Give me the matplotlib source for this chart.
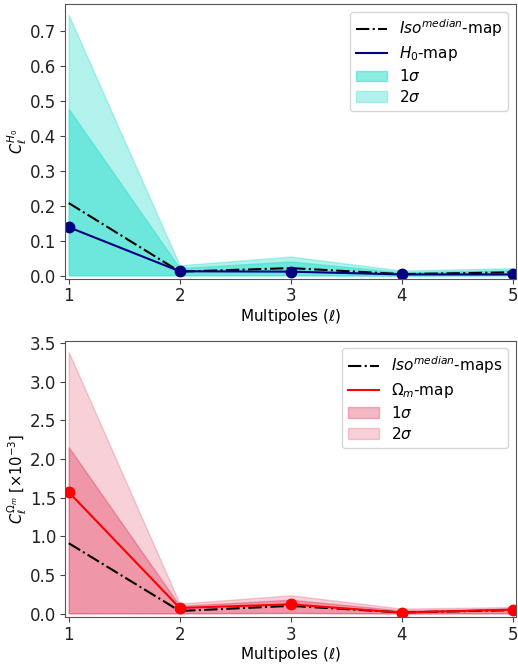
import numpy as np
import matplotlib
matplotlib.use("Agg")
import matplotlib.pyplot as plt
from matplotlib.lines import Line2D
from matplotlib.patches import Patch

# Multipoles
ell = [1, 2, 3, 4, 5]

# H0 angular power spectrum
h0_map = [0.139, 0.013, 0.012, 0.004, 0.004]
h0_iso_median = [0.208, 0.012, 0.022, 0.005, 0.010]
h0_1s_low = [0.002, 0.002, 0.002, 0.001, 0.002]
h0_1s_high = [0.477, 0.022, 0.041, 0.010, 0.016]
h0_2s_low = [0.001, 0.001, 0.001, 0.000, 0.001]
h0_2s_high = [0.745, 0.030, 0.055, 0.015, 0.022]

# Omega_m angular power spectrum (x 1e-3)
om_map = [1.57, 0.073, 0.12, 0.013, 0.052]
om_iso_median = [0.91, 0.034, 0.10, 0.015, 0.045]
om_1s_low = [0.005, 0.004, 0.010, 0.002, 0.005]
om_1s_high = [2.15, 0.10, 0.18, 0.040, 0.065]
om_2s_low = [0.002, 0.002, 0.005, 0.001, 0.002]
om_2s_high = [3.38, 0.13, 0.237, 0.065, 0.085]

plt.rcParams['font.size'] = 12

fig = plt.figure(figsize=(5.18, 6.69), dpi=100)
ax1 = fig.add_axes([0.125, 0.583, 0.871, 0.411])
ax2 = fig.add_axes([0.125, 0.077, 0.871, 0.414])


def panel(ax, med, val, lo1, hi1, lo2, hi2, fill_color, a1, a2, line_color,
          med_label, val_label, ylabel):
    ax.fill_between(ell, lo2, hi2, color=fill_color, alpha=a2)
    ax.fill_between(ell, lo1, hi1, color=fill_color, alpha=a1)
    ax.plot(ell, med, color='black', ls='-.', lw=1.5)
    ax.plot(ell, val, color=line_color, lw=1.5)
    ax.plot(ell, val, 'o', color=line_color, ms=7.5)
    handles = [
        Line2D([], [], color='black', ls='-.', lw=1.5),
        Line2D([], [], color=line_color, lw=1.5),
        Patch(facecolor=fill_color, edgecolor=fill_color, alpha=a1),
        Patch(facecolor=fill_color, edgecolor=fill_color, alpha=a2),
    ]
    ax.legend(handles, [med_label, val_label, r'$1\sigma$', r'$2\sigma$'],
              loc='upper right', fontsize=11, labelspacing=0.32)
    ax.set_xticks(ell)
    ax.set_xlim(0.964, 5.03)
    ax.set_xlabel(r'Multipoles ($\ell$)', fontsize=11, labelpad=1)
    ax.set_ylabel(ylabel, fontsize=10.5, labelpad=1)
    ax.tick_params(colors='#444444', labelcolor='#222222', pad=2.5)
    for s in ax.spines.values():
        s.set_color('#555555')


panel(ax1, h0_iso_median, h0_map, h0_1s_low, h0_1s_high, h0_2s_low, h0_2s_high,
      'turquoise', 0.6, 0.4, 'navy',
      r'$Iso^{median}$-map', r'$H_0$-map', r'$C_\ell^{H_0}$')
ax1.set_ylim(-0.009, 0.777)
ax1.set_yticks(np.arange(0, 0.71, 0.1))

panel(ax2, om_iso_median, om_map, om_1s_low, om_1s_high, om_2s_low, om_2s_high,
      'crimson', 0.3, 0.2, 'red',
      r'$Iso^{median}$-maps', r'$\Omega_m$-map',
      r'$C_\ell^{\Omega_m}$ [$\times 10^{-3}$]')
ax2.set_ylim(-0.05, 3.53)
ax2.set_yticks(np.arange(0, 3.51, 0.5))

fig.savefig('out.png', dpi=100)
